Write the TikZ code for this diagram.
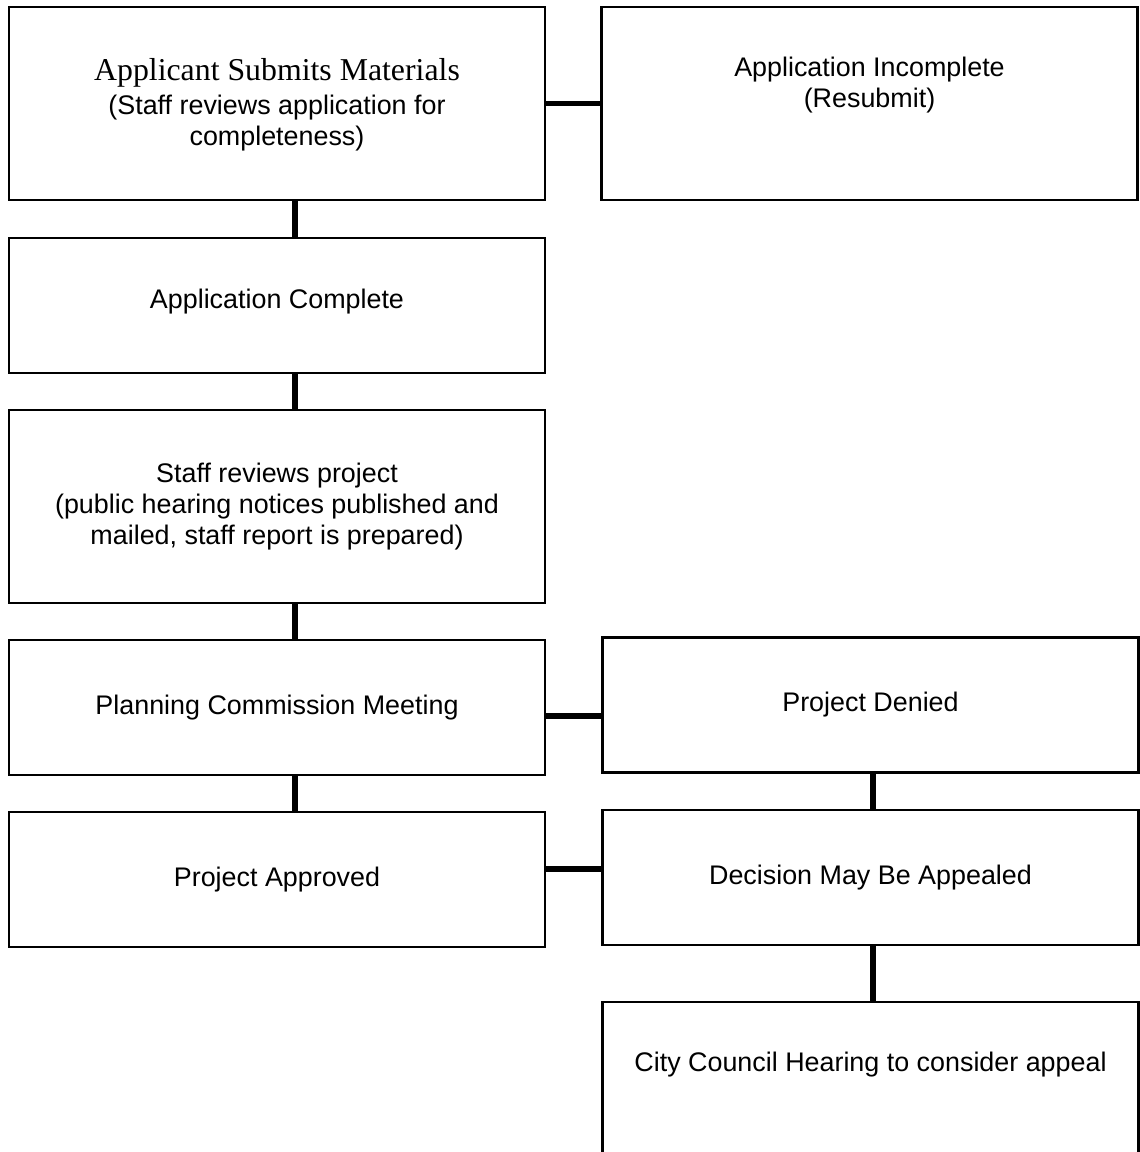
\documentclass[tikz,border=0pt]{standalone}
\usepackage{fontspec}
\setmainfont{Liberation Sans}
\newfontfamily\timesfont{Liberation Serif}

\begin{document}
\begin{tikzpicture}[x=0.02cm, y=-0.02cm,
  box/.style={draw, line width=1.3pt, minimum width=10.72cm, inner sep=0pt, align=center,
    font=\fontsize{15.3}{17.6}\selectfont},
  short/.style={minimum height=2.7cm},
  tall/.style={minimum height=3.86cm},
  txt/.style={align=center, inner sep=0pt, font=\fontsize{15.3}{17.6}\selectfont},
  link/.style={line width=3pt}]
  \useasboundingbox (0,0) rectangle (1139,1152);
  %% left column
  \node[box, tall] (submit) at (277,103.5) {};
  \node[txt] (submit-t) at ([yshift=-0.03cm]submit.center) {{\timesfont\fontsize{18.1}{17.6}\selectfont Applicant Submits Materials}\\[2pt](Staff reviews application for\\completeness)};
  \node[box, short] (complete) at (277,305.5) {};
  \node[txt] (complete-t) at ([yshift=0.08cm]complete.center) {Application Complete};
  \node[box, tall] (review) at (277,506.5) {Staff reviews project\\(public hearing notices published and\\mailed, staff report is prepared)};
  \node[box, short] (meeting) at (277,707.5) {Planning Commission Meeting};
  \node[box, short] (approved) at (277,879.5) {Project Approved};
  %% right column
  \node[box, tall] (incomplete) at (869.5,103.5) {};
  \node[txt] (incomplete-t) at ([yshift=0.36cm]incomplete.center) {Application Incomplete\\(Resubmit)};
  \node[box, short] (denied) at (870.5,705) {Project Denied};
  \node[box, short] (appeal) at (870.5,877.5) {Decision May Be Appealed};
  \node[box, minimum height=3.16cm] (council) at (870.5,1081) {};
  \node[txt] (council-t) at ([yshift=0.32cm]council.center) {City Council Hearing to consider appeal};
  %% connectors
  \coordinate (lspine) at (295,0);
  \coordinate (rspine) at (873,0);
  \coordinate (deny) at (0,716);
  \coordinate (appealrow) at (0,869);
  \draw[link] (submit.east) -- (incomplete.west);
  \draw[link] (submit.south -| lspine) -- (complete.north -| lspine);
  \draw[link] (complete.south -| lspine) -- (review.north -| lspine);
  \draw[link] (review.south -| lspine) -- (meeting.north -| lspine);
  \draw[link] (meeting.south -| lspine) -- (approved.north -| lspine);
  \draw[link] (meeting.east |- deny) -- (denied.west |- deny);
  \draw[link] (approved.east |- appealrow) -- (appeal.west |- appealrow);
  \draw[link] (denied.south -| rspine) -- (appeal.north -| rspine);
  \draw[link] (appeal.south -| rspine) -- (council.north -| rspine);
\end{tikzpicture}
\end{document}
